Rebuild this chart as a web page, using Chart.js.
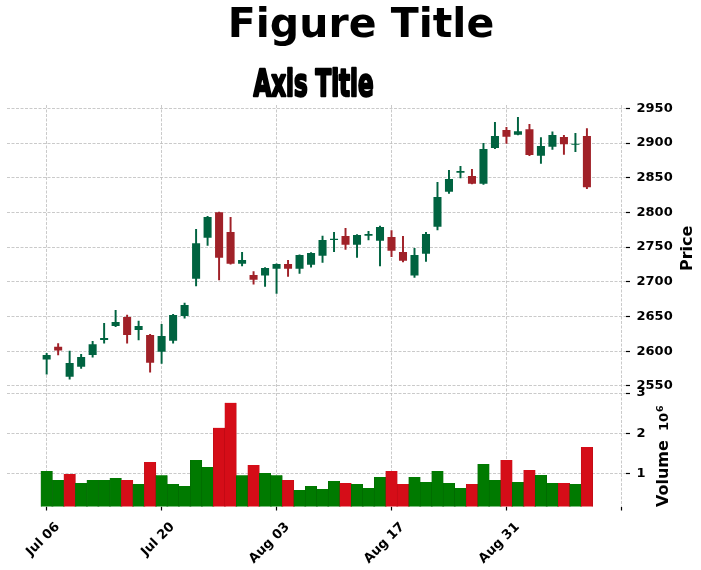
<!DOCTYPE html>
<html>
<head>
<meta charset="utf-8">
<script src="https://cdn.jsdelivr.net/npm/chart.js@4.4.1/dist/chart.umd.min.js"></script>
<style>
html,body{margin:0;padding:0;background:#ffffff;}
canvas{display:block;}
</style>
</head>
<body>
<canvas id="c" width="701" height="570"></canvas>
<script>
// ---- data ----
const dates = [
  '2020-07-06','2020-07-07','2020-07-08','2020-07-09','2020-07-10',
  '2020-07-13','2020-07-14','2020-07-15','2020-07-16','2020-07-17',
  '2020-07-20','2020-07-21','2020-07-22','2020-07-23','2020-07-24',
  '2020-07-27','2020-07-28','2020-07-29','2020-07-30','2020-07-31',
  '2020-08-03','2020-08-04','2020-08-05','2020-08-06','2020-08-07',
  '2020-08-10','2020-08-11','2020-08-12','2020-08-13','2020-08-14',
  '2020-08-17','2020-08-18','2020-08-19','2020-08-20','2020-08-21',
  '2020-08-24','2020-08-25','2020-08-26','2020-08-27','2020-08-28',
  '2020-08-31','2020-09-01','2020-09-02','2020-09-03','2020-09-04',
  '2020-09-08','2020-09-09','2020-09-10'
];
const opens = [
  2588.0,2606.5,2563.3,2577.7,2594.5,2616.1,2636.3,2649.3,2630.6,2623.3,
  2599.3,2615.2,2650.7,2704.5,2763.6,2800.1,2771.8,2726.1,2709.8,2708.9,
  2718.9,2725.7,2718.9,2724.7,2737.7,2760.2,2766.0,2753.5,2766.5,2759.3,
  2764.6,2742.9,2708.9,2740.5,2779.5,2829.9,2857.3,2852.5,2841.4,2892.8,
  2918.7,2912.0,2919.7,2881.8,2894.7,2908.6,2897.6,2910.1
];
const highs = [
  2597.0,2611.0,2600.3,2595.5,2614.2,2640.2,2658.9,2652.2,2643.5,2624.3,
  2638.7,2653.0,2669.5,2775.6,2794.3,2800.5,2792.9,2742.5,2714.6,2720.5,
  2726.0,2730.9,2739.0,2742.0,2766.0,2771.3,2777.0,2768.0,2772.7,2780.4,
  2773.7,2765.5,2748.2,2771.3,2843.3,2860.6,2866.4,2862.1,2899.5,2929.8,
  2922.6,2937.0,2926.9,2907.7,2916.3,2911.1,2913.9,2920.7
];
const lows = [
  2567.0,2594.5,2559.5,2575.3,2591.2,2611.4,2635.5,2611.4,2616.1,2569.6,
  2582.5,2611.4,2647.4,2693.9,2752.6,2702.6,2725.5,2722.8,2696.4,2693.5,
  2683.4,2707.9,2712.2,2720.9,2728.0,2743.4,2746.8,2735.3,2760.2,2722.8,
  2736.2,2728.5,2706.4,2729.5,2774.6,2827.5,2849.6,2841.0,2840.4,2891.8,
  2899.5,2911.5,2881.8,2870.7,2890.9,2883.7,2887.5,2834.2
];
const closes = [
  2594.5,2601.0,2583.0,2591.6,2609.9,2619.0,2642.1,2623.3,2636.3,2583.5,
  2621.9,2652.2,2666.6,2755.4,2793.4,2734.8,2726.1,2731.4,2703.1,2719.9,
  2725.7,2718.9,2738.6,2741.5,2760.2,2762.2,2753.5,2767.4,2768.9,2779.0,
  2744.9,2730.4,2738.6,2768.9,2822.2,2848.1,2859.7,2841.4,2891.4,2910.1,
  2909.1,2916.8,2882.7,2895.7,2911.5,2898.1,2899.1,2836.1
];
const volumes = [
  1058000, 833000, 983000, 758000, 833000, 833000, 883000, 833000, 733000,1283000,
   950000, 733000, 683000,1333000,1158000,2133000,2758000, 950000,1208000,1008000,
   950000, 833000, 583000, 683000, 608000, 808000, 758000, 733000, 633000, 908000,
  1058000, 733000, 908000, 783000,1058000, 758000, 633000, 733000,1233000, 833000,
  1333000, 783000,1083000, 958000, 758000, 758000, 733000,1658000
];
const priceTicks = [2550, 2600, 2650, 2700, 2750, 2800, 2850, 2900, 2950];
const volumeTicks = [1000000, 2000000, 3000000];
const xTickIndex = [0, 10, 20, 30, 40, 50];
const priceRange = [2541.6, 2954.8];
const volumeRange = [175000, 3033000];
const xRange = [-3.45, 50.4];

// ---- styles ----
const candleUp = '#006340', candleDown = '#a02128';
const volUp = '#007a00', volDown = '#d50d18';
const volUpEdge = '#006400', volDownEdge = '#b50b15';
const gridColor = '#bdbdbd';
const monthNames = ['Jan','Feb','Mar','Apr','May','Jun','Jul','Aug','Sep','Oct','Nov','Dec'];
function fmtDate(s){ const p = s.split('-'); return monthNames[+p[1]-1] + ' ' + p[2]; }

const idx = dates.map((d,i)=>i);
const candleColors = idx.map(i => closes[i] >= opens[i] ? candleUp : candleDown);
const volUpDown = idx.map(i => (i === 0 || closes[i] >= closes[i-1]));
const volColors = volUpDown.map(u => u ? volUp : volDown);
const volEdges = volUpDown.map(u => u ? volUpEdge : volDownEdge);

const tickFont = {family: '"DejaVu Sans"', size: 13, weight: 'bold'};

const textPlugin = {
  id: 'texts',
  afterDraw(chart){
    const ctx = chart.ctx;
    ctx.save();
    ctx.fillStyle = '#000';
    ctx.strokeStyle = '#000';
    // figure title
    ctx.font = 'bold 41px "DejaVu Sans"';
    ctx.textAlign = 'center';
    ctx.textBaseline = 'alphabetic';
    ctx.fillText('Figure Title', 361, 37);
    // axis title (condensed heavy face)
    ctx.save();
    ctx.font = 'bold 38px "DejaVu Sans Condensed", "DejaVu Sans"';
    const w = ctx.measureText('Axis Title').width;
    ctx.translate(313.5, 96);
    ctx.scale(120 / w, 1);
    ctx.lineWidth = 2.4;
    ctx.lineJoin = 'round';
    ctx.strokeText('Axis Title', 0, 0);
    ctx.fillText('Axis Title', 0, 0);
    ctx.restore();
    // Price label
    const py = chart.scales.y;
    ctx.save();
    ctx.translate(692, (py.top + py.bottom) / 2);
    ctx.rotate(-Math.PI / 2);
    ctx.font = 'bold 16px "DejaVu Sans"';
    ctx.textAlign = 'center';
    ctx.fillText('Price', 0, 0);
    ctx.restore();
    // Volume label with 10^6 multiplier
    ctx.save();
    ctx.translate(668, 507);
    ctx.rotate(-Math.PI / 2);
    ctx.textAlign = 'left';
    ctx.font = 'bold 16px "DejaVu Sans"';
    ctx.fillText('Volume', 0, 0);
    let x = ctx.measureText('Volume').width + 9;
    ctx.font = 'bold 13px "DejaVu Sans"';
    ctx.fillText('10', x, 0);
    x += ctx.measureText('10').width + 1;
    ctx.font = 'bold 9.5px "DejaVu Sans"';
    ctx.fillText('6', x, -5.5);
    ctx.restore();
    ctx.restore();
  }
};

new Chart(document.getElementById('c'), {
  type: 'bar',
  data: {
    datasets: [
      {
        label: 'wick',
        data: idx.map(i => ({x: i, y: [lows[i], highs[i]]})),
        backgroundColor: candleColors,
        barThickness: 1.3,
        grouped: false,
        yAxisID: 'y',
        order: 3
      },
      {
        label: 'body',
        data: idx.map(i => ({x: i, y: [opens[i], closes[i]]})),
        backgroundColor: candleColors,
        barPercentage: 0.7,
        categoryPercentage: 1,
        grouped: false,
        yAxisID: 'y',
        order: 2
      },
      {
        label: 'volume',
        data: idx.map(i => ({x: i, y: volumes[i]})),
        backgroundColor: volColors,
        borderColor: volEdges,
        borderWidth: {left: 0.5, right: 0.5, top: 0, bottom: 0},
        borderSkipped: false,
        barPercentage: 1,
        categoryPercentage: 1,
        grouped: false,
        yAxisID: 'v',
        order: 1
      }
    ]
  },
  options: {
    responsive: false,
    animation: false,
    layout: {padding: {top: 105, left: 7, right: 0, bottom: 0}},
    plugins: {legend: {display: false}, tooltip: {enabled: false}, title: {display: false}},
    scales: {
      x: {
        type: 'linear',
        position: 'bottom',
        min: xRange[0],
        max: xRange[1],
        offset: false,
        afterBuildTicks: (a) => { a.ticks = xTickIndex.map(v => ({value: v})); },
        afterFit: (a) => { a.height = 63.5; },
        grid: {offset: false, color: gridColor, lineWidth: 0.8, tickLength: 4, tickColor: '#000', tickWidth: 1.2, tickBorderDash: [], drawOnChartArea: true},
        border: {display: false, dash: [3, 1.5]},
        ticks: {
          autoSkip: false, maxRotation: 45, minRotation: 45, padding: 9, labelOffset: 11,
          color: '#000', font: tickFont,
          callback: (v) => (v >= 0 && v < dates.length) ? fmtDate(dates[v]) : ''
        }
      },
      y: {
        type: 'linear',
        position: 'right',
        stack: 'panels',
        stackWeight: 286.7,
        min: priceRange[0],
        max: priceRange[1],
        afterBuildTicks: (a) => { a.ticks = priceTicks.map(v => ({value: v})); },
        afterFit: (a) => { a.width = 75; },
        grid: {color: gridColor, lineWidth: 0.8, tickLength: 4, tickColor: '#000', tickWidth: 1.2, tickBorderDash: []},
        border: {display: false, dash: [3, 1.5]},
        ticks: {color: '#000', font: tickFont, padding: 6.5, callback: (v) => String(v)}
      },
      v: {
        type: 'linear',
        position: 'right',
        stack: 'panels',
        stackWeight: 114.8,
        min: volumeRange[0],
        max: volumeRange[1],
        afterBuildTicks: (a) => { a.ticks = volumeTicks.map(v => ({value: v})); },
        afterFit: (a) => { a.width = 75; },
        grid: {color: gridColor, lineWidth: 0.8, tickLength: 4, tickColor: '#000', tickWidth: 1.2, tickBorderDash: []},
        border: {display: false, dash: [3, 1.5]},
        ticks: {color: '#000', font: tickFont, padding: 6.5, callback: (v) => String(v / 1000000)}
      }
    }
  },
  plugins: [textPlugin]
});
</script>
</body>
</html>
